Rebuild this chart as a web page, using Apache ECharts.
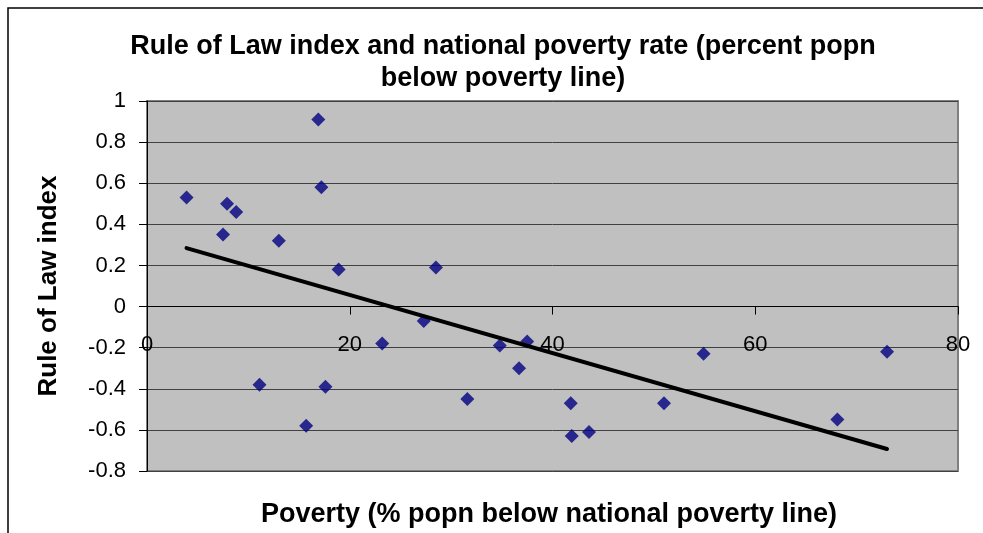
<!DOCTYPE html>
<html>
<head>
<meta charset="utf-8">
<script src="https://cdn.jsdelivr.net/npm/echarts@6/dist/echarts.min.js"></script>
<style>
  html, body { margin: 0; padding: 0; background: #ffffff; }
  #chart { width: 983px; height: 533px; }
</style>
</head>
<body>
<div id="chart"></div>
<script>
// Poverty rate (% of population below national poverty line), one entry per country
const povertyRate = [3.9, 7.5, 7.9, 8.8, 11.1, 13.0, 15.7, 16.9, 17.2, 17.6, 18.9, 23.2, 27.3,
  28.5, 31.6, 34.8, 36.7, 37.5, 41.8, 41.9, 43.6, 51.0, 54.9, 68.1, 73.0];
// Rule of Law index for the same countries
const ruleOfLaw = [0.53, 0.35, 0.50, 0.46, -0.38, 0.32, -0.58, 0.91, 0.58, -0.39, 0.18, -0.18, -0.07,
  0.19, -0.45, -0.19, -0.30, -0.17, -0.47, -0.63, -0.61, -0.47, -0.23, -0.55, -0.22];

const xTicks = [0, 20, 40, 60, 80];
const yTicks = [-0.8, -0.6, -0.4, -0.2, 0, 0.2, 0.4, 0.6, 0.8, 1];

const chartTitle = 'Rule of Law index and national poverty rate (percent popn\nbelow poverty line)';
const xName = 'Poverty (% popn below national poverty line)';
const yName = 'Rule of Law index';

const points = povertyRate.map((x, i) => [x, ruleOfLaw[i]]);

// Ordinary least-squares linear trend through the points
function linearFit(xs, ys) {
  const n = xs.length;
  const mx = xs.reduce((a, b) => a + b, 0) / n;
  const my = ys.reduce((a, b) => a + b, 0) / n;
  let sxy = 0, sxx = 0;
  for (let i = 0; i < n; i++) {
    sxy += (xs[i] - mx) * (ys[i] - my);
    sxx += (xs[i] - mx) * (xs[i] - mx);
  }
  const slope = sxy / sxx;
  return { slope, intercept: my - slope * mx };
}
const fit = linearFit(povertyRate, ruleOfLaw);
const xMin = Math.min(...povertyRate);
const xMax = Math.max(...povertyRate);
const trend = [[xMin, fit.intercept + fit.slope * xMin], [xMax, fit.intercept + fit.slope * xMax]];

const FONT = '"Liberation Sans", Arial, sans-serif';

// Plot area box
const GRID = { left: 147, right: 25, top: 101, bottom: 62 };
const plotHeight = 533 - GRID.top - GRID.bottom;
const yLo = yTicks[0], yHi = yTicks[yTicks.length - 1];
// The horizontal axis crosses the vertical one at zero, labels travelling with it
const xAxisOffset = -plotHeight * (0 - yLo) / (yHi - yLo);

const chart = echarts.init(document.getElementById('chart'), null, { renderer: 'canvas' });
chart.setOption({
  animation: false,
  backgroundColor: '#ffffff',
  textStyle: { fontFamily: FONT },
  grid: Object.assign({
    show: true,
    backgroundColor: '#c0c0c0',
    borderColor: '#808080',
    borderWidth: 2
  }, GRID),
  graphic: [
    {
      type: 'rect', silent: true,
      shape: { x: 8, y: 8, width: 1100, height: 700 },
      style: { fill: 'none', stroke: '#000000', lineWidth: 1.5 }
    },
    {
      type: 'text', silent: true,
      x: 503, y: 63,
      style: {
        text: chartTitle, fill: '#000', font: 'bold 27px ' + FONT,
        textAlign: 'center', textVerticalAlign: 'middle', lineHeight: 32
      }
    },
    {
      type: 'text', silent: true,
      x: 549, y: 515,
      style: {
        text: xName, fill: '#000', font: 'bold 27px ' + FONT,
        textAlign: 'center', textVerticalAlign: 'middle'
      }
    }
  ],
  xAxis: {
    type: 'value',
    position: 'bottom',
    offset: xAxisOffset,
    min: xTicks[0], max: xTicks[xTicks.length - 1], interval: 20,
    axisLine: { show: true, onZero: false, lineStyle: { color: '#000', width: 1 } },
    axisTick: { show: true, inside: false, length: 8, lineStyle: { color: '#000' } },
    axisLabel: { color: '#000', fontSize: 22, fontFamily: FONT, margin: 27 },
    splitLine: { show: false }
  },
  yAxis: {
    type: 'value',
    min: yLo, max: yHi, interval: 0.2,
    name: yName,
    nameLocation: 'middle',
    nameGap: 85,
    nameRotate: 90,
    nameTextStyle: { color: '#000', fontSize: 26, fontWeight: 'bold', fontFamily: FONT },
    axisLine: { show: true, onZero: false, lineStyle: { color: '#000', width: 1 } },
    axisTick: { show: true, inside: false, length: 8, lineStyle: { color: '#000' } },
    axisLabel: {
      color: '#000', fontSize: 22, fontFamily: FONT, margin: 21,
      formatter: v => String(+v.toFixed(1))
    },
    splitLine: { show: true, lineStyle: { color: '#404040', width: 1 } }
  },
  series: [
    {
      type: 'scatter',
      data: points,
      symbol: 'diamond',
      symbolSize: 14,
      itemStyle: { color: '#000080' },
      z: 3
    },
    {
      type: 'line',
      data: trend,
      showSymbol: false,
      symbol: 'none',
      lineStyle: { color: '#000', width: 4, cap: 'round' },
      z: 4
    }
  ]
});
</script>
</body>
</html>
